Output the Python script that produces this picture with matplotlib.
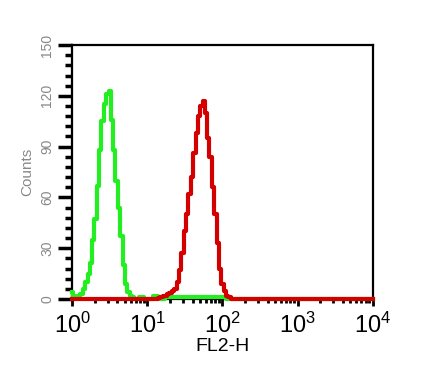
import numpy as np
import matplotlib
matplotlib.use('Agg')
import matplotlib.pyplot as plt
from matplotlib.ticker import MultipleLocator, FixedLocator, LogLocator

plt.rcParams['font.family'] = ['Liberation Sans', 'DejaVu Sans']
plt.rcParams['mathtext.fontset'] = 'custom'
plt.rcParams['mathtext.rm'] = 'Liberation Sans'
plt.rcParams['mathtext.it'] = 'Liberation Sans'

# log10 of channel centres and counts
green_log = [0.0, 0.03, 0.06, 0.09, 0.12, 0.16, 0.19, 0.22, 0.25, 0.28, 0.31, 0.34,
             0.37, 0.41, 0.44, 0.47, 0.50, 0.53, 0.56, 0.59, 0.62, 0.66, 0.69, 0.72,
             0.75, 0.78, 0.81, 0.84, 0.94, 0.97, 1.0, 1.06, 1.09, 1.12, 1.16, 1.30,
             2.03, 2.06, 4.0]
green_counts = [4, 2, 1, 2, 3, 6, 10, 15, 21, 35, 47, 67,
                88, 105, 115, 121, 123, 106, 88, 70, 54, 37, 20, 9,
                4, 2, 1, 0, 1, 0, 0, 0, 1.5, 1.5, 0, 1,
                1, 0, 0]

red_log = [0.0, 1.125, 1.156, 1.19, 1.22, 1.25, 1.28, 1.31, 1.34, 1.375, 1.41, 1.44,
           1.47, 1.50, 1.53, 1.56, 1.59, 1.625, 1.66, 1.69, 1.72, 1.75, 1.78, 1.81,
           1.84, 1.875, 1.91, 1.94, 1.97, 2.00, 2.03, 2.06, 2.09, 2.125, 4.0]
red_counts = [0, 0, 0.5, 1, 1.5, 2, 3, 3.5, 4.5, 6, 10, 17,
              27, 40, 50, 62, 72, 86, 98, 108, 114, 117, 110, 95,
              84, 66, 50, 33, 18, 9, 5, 2, 1, 0, 0]

x_decades = [0, 1, 2, 3, 4]
y_ticks = [0, 30, 60, 90, 120, 150]

fig = plt.figure(figsize=(4.29, 3.68), dpi=100)
ax = fig.add_axes([0.168, 0.1875, 0.701, 0.690])

ax.plot(10 ** np.array(green_log), green_counts, drawstyle='steps-mid',
        color='#22EE22', lw=3, zorder=3, clip_on=False)
ax.plot(10 ** np.array(red_log), red_counts, drawstyle='steps-mid',
        color='#D40000', lw=3, zorder=4, clip_on=False)

ax.set_xscale('log')
ax.set_xlim(1, 1e4)
ax.set_ylim(0, 150)
ax.xaxis.set_major_locator(FixedLocator([10.0 ** d for d in x_decades]))
ax.xaxis.set_minor_locator(LogLocator(base=10, subs=np.arange(2, 10), numticks=20))
ax.set_xticklabels([r'$10^{%d}$' % d for d in x_decades])
ax.set_yticks(y_ticks)
ax.set_yticklabels([str(v) for v in y_ticks], rotation=90, va='center',
                   fontsize=10, color='#888888')
ax.yaxis.set_minor_locator(MultipleLocator(6))

for s in ax.spines.values():
    s.set_linewidth(1.6)

ax.tick_params(axis='x', which='major', direction='out', length=5, width=2,
               labelsize=17, pad=5, top=False)
ax.tick_params(axis='x', which='minor', direction='out', length=3, width=2, top=False)
ax.tick_params(axis='y', which='major', direction='out', length=10, width=2.5,
               pad=3, right=False)
ax.tick_params(axis='y', which='minor', direction='out', length=5, width=2.5, right=False)

ax.set_xlabel('FL2-H', fontsize=14, labelpad=0)
ax.set_ylabel('Counts', fontsize=11, color='#888888', labelpad=4)

plt.savefig('out.png', dpi=100)
